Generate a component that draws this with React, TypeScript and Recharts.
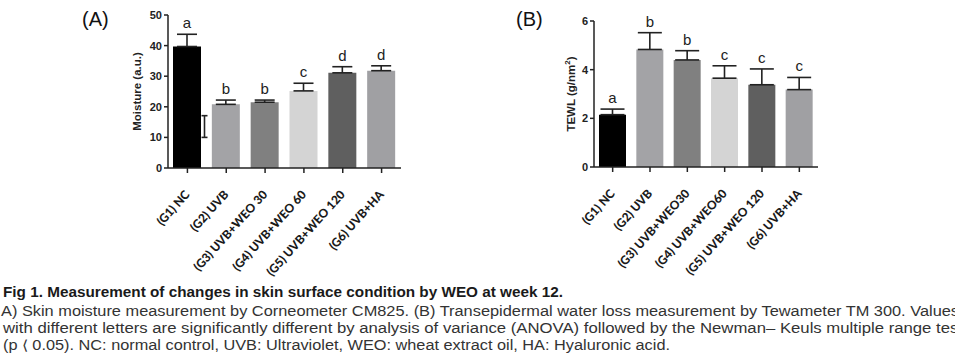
import React from "react";
import { BarChart, Bar, XAxis, YAxis, ErrorBar, Cell, LabelList } from "recharts";

const groups = ["(G1) NC", "(G2) UVB", "(G3) UVB+WEO 30", "(G4) UVB+WEO 60", "(G5) UVB+WEO 120", "(G6) UVB+HA"];
const groupsB = ["(G1) NC", "(G2) UVB", "(G3) UVB+WEO30", "(G4) UVB+WEO60", "(G5) UVB+WEO 120", "(G6) UVB+HA"];
const moisture = [39.7, 20.8, 21.5, 25.2, 31.1, 31.8];
const moistureErr = [4.0, 1.4, 0.7, 2.5, 2.0, 1.6];
const moistureLetters = ["a", "b", "b", "c", "d", "d"];
const strayBar = [10, 17.1];
const tewl = [2.15, 4.83, 4.4, 3.65, 3.38, 3.18];
const tewlErr = [0.23, 0.69, 0.38, 0.51, 0.65, 0.5];
const tewlLetters = ["a", "b", "b", "c", "c", "c"];
const barColors = ["#000000", "#a3a3a6", "#808080", "#d4d4d4", "#5f5f5f", "#a0a0a3"];
const ticksA = [0, 10, 20, 30, 40, 50];
const ticksB = [0, 2, 4, 6];

const dataA = groups.map((g, i) => ({ name: g, v: moisture[i], e: [0, moistureErr[i]] }));
const dataB = groupsB.map((g, i) => ({ name: g, v: tewl[i], e: [0, tewlErr[i]] }));

const axisColor = "#222";

const XTick = (props: any) => {
  const { x, y, payload } = props;
  return (
    <g transform={`translate(${x},${y})`}>
      <text
        textAnchor="end"
        transform="translate(3,20) rotate(-48)"
        fontFamily="Lato, 'Open Sans', sans-serif"
        fontWeight={900}
        fontSize={12}
        fill="#1a1a1a"
      >
        {payload.value}
      </text>
    </g>
  );
};

const makeLetterLabel = (values: number[], errs: number[], letters: string[]) => (props: any) => {
  const { x, y, width, height, index } = props;
  const ppu = height / values[index];
  const errTop = y - errs[index] * ppu;
  return (
    <text
      x={x + width / 2}
      y={errTop - 6}
      textAnchor="middle"
      fontFamily="'Liberation Sans', Arial, sans-serif"
      fontSize={15}
      fill="#222"
    >
      {letters[index]}
    </text>
  );
};

const StrayLabel = (props: any) => {
  const { x, y, width, height, index } = props;
  if (index !== 0) return null;
  const ppu = height / moisture[0];
  const base = y + height;
  const cx = x + width + 3.5;
  const y1 = base - strayBar[0] * ppu;
  const y2 = base - strayBar[1] * ppu;
  return (
    <g stroke="#222" strokeWidth={1.6}>
      <line x1={cx} x2={cx} y1={y1} y2={y2} />
      <line x1={cx - 3} x2={cx + 3} y1={y1} y2={y1} />
      <line x1={cx - 3} x2={cx + 3} y1={y2} y2={y2} />
    </g>
  );
};

const yLabel = (text: React.ReactNode, dx: number) => (props: any) => {
  const vb = props.viewBox || {};
  const cx = vb.x + dx;
  const cy = vb.y + vb.height / 2;
  return (
    <text
      x={cx}
      y={cy}
      transform={`rotate(-90, ${cx}, ${cy})`}
      textAnchor="middle"
      dominantBaseline="middle"
      fontFamily="'Liberation Sans', Arial, sans-serif"
      fontWeight={700}
      fontSize={11.5}
      fill="#222"
    >
      {text}
    </text>
  );
};

const tickStyle = { fontFamily: "'Liberation Sans', Arial, sans-serif", fontWeight: 700, fontSize: 11, fill: "#222" };

export default function App() {
  return (
    <div style={{ position: "absolute", left: 0, top: 0, width: 955, height: 361, background: "#fff", overflow: "hidden" }}>
      <div style={{ position: "absolute", left: 0, top: 0 }}>
        <BarChart width={480} height={285} data={dataA} margin={{ top: 15, right: 79, bottom: 2, left: 138 }} barSize={28}>
          <XAxis
            dataKey="name"
            interval={0}
            height={115}
            tick={<XTick />}
            tickSize={5}
            tickMargin={2}
            axisLine={{ stroke: axisColor, strokeWidth: 1.5 }}
            tickLine={{ stroke: axisColor, strokeWidth: 1.5 }}
          />
          <YAxis
            width={30}
            domain={[0, 50]}
            ticks={ticksA}
            tick={tickStyle}
            tickSize={4}
            tickMargin={2}
            axisLine={{ stroke: axisColor, strokeWidth: 1.5 }}
            tickLine={{ stroke: axisColor, strokeWidth: 1.5 }}
            label={{ content: yLabel("Moisture (a.u.)", 0) }}
          />
          <Bar dataKey="v" isAnimationActive={false}>
            {dataA.map((d, i) => (
              <Cell key={i} fill={barColors[i]} />
            ))}
            <ErrorBar dataKey="e" width={10} strokeWidth={1.6} stroke="#222" direction="y" isAnimationActive={false} />
            <LabelList dataKey="v" content={makeLetterLabel(moisture, moistureErr, moistureLetters)} />
            <LabelList dataKey="v" content={StrayLabel} />
          </Bar>
        </BarChart>
      </div>
      <div style={{ position: "absolute", left: 470, top: 0 }}>
        <BarChart width={485} height={285} data={dataB} margin={{ top: 21, right: 137, bottom: 3, left: 94 }} barSize={27}>
          <XAxis
            dataKey="name"
            interval={0}
            height={115}
            tick={<XTick />}
            tickSize={5}
            tickMargin={2}
            axisLine={{ stroke: axisColor, strokeWidth: 1.5 }}
            tickLine={{ stroke: axisColor, strokeWidth: 1.5 }}
          />
          <YAxis
            width={30}
            domain={[0, 6]}
            ticks={ticksB}
            tick={tickStyle}
            tickSize={4}
            tickMargin={2}
            axisLine={{ stroke: axisColor, strokeWidth: 1.5 }}
            tickLine={{ stroke: axisColor, strokeWidth: 1.5 }}
            label={{ content: yLabel(<>TEWL (g/nm<tspan dy={-4} fontSize={8}>2</tspan><tspan dy={4}>)</tspan></>, 8) }}
          />
          <Bar dataKey="v" isAnimationActive={false}>
            {dataB.map((d, i) => (
              <Cell key={i} fill={barColors[i]} />
            ))}
            <ErrorBar dataKey="e" width={12} strokeWidth={1.6} stroke="#222" direction="y" isAnimationActive={false} />
            <LabelList dataKey="v" content={makeLetterLabel(tewl, tewlErr, tewlLetters)} />
          </Bar>
        </BarChart>
      </div>
      <svg width={955} height={361} style={{ position: "absolute", left: 0, top: 0, pointerEvents: "none" }}>
        <text x={82} y={26} fontFamily="'Liberation Sans', Arial, sans-serif" fontSize={20} fill="#111">(A)</text>
        <text x={516} y={26} fontFamily="'Liberation Sans', Arial, sans-serif" fontSize={20} fill="#111">(B)</text>
        <g fontFamily="'Liberation Sans', 'Noto Sans', sans-serif" fontSize={14}>
          <text x={3} y={297} textLength={560} lengthAdjust="spacingAndGlyphs" fontWeight={700} fill="#1a1a1a">
            Fig 1. Measurement of changes in skin surface condition by WEO at week 12.
          </text>
          <text x={1} y={316} textLength={958} lengthAdjust="spacingAndGlyphs" fill="#333">
            A) Skin moisture measurement by Corneometer CM825. (B) Transepidermal water loss measurement by Tewameter TM 300. Values
          </text>
          <text x={3} y={333} textLength={960} lengthAdjust="spacingAndGlyphs" fill="#333">
            with different letters are significantly different by analysis of variance (ANOVA) followed by the Newman– Keuls multiple range test
          </text>
          <text x={3} y={350} textLength={667} lengthAdjust="spacingAndGlyphs" fill="#333">
            (p ⟨ 0.05). NC: normal control, UVB: Ultraviolet, WEO: wheat extract oil, HA: Hyaluronic acid.
          </text>
        </g>
      </svg>
    </div>
  );
}
